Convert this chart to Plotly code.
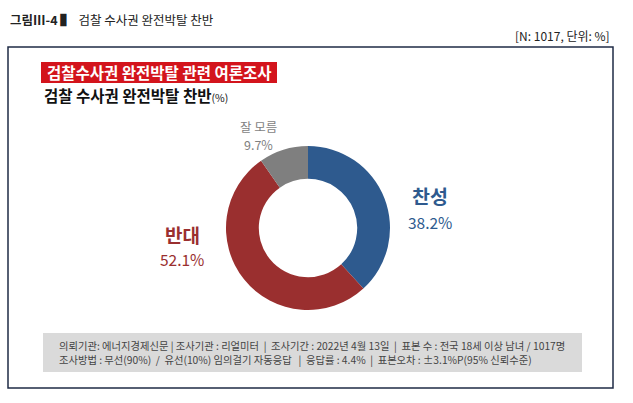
import plotly.graph_objects as go

labels = ["찬성", "반대", "잘 모름"]
values = [38.2, 52.1, 9.7]
colors = ["#2E5A8E", "#9A2F2F", "#7F7F7F"]

fig_title = "그림Ⅲ-4"
fig_subject = "검찰 수사권 완전박탈 찬반"
unit_note = "[N: 1017, 단위: %]"
banner_text = "검찰수사권 완전박탈 관련 여론조사"
chart_title = "검찰 수사권 완전박탈 찬반"
footer_lines = [
    "의뢰기관: 에너지경제신문 | 조사기관 : 리얼미터  |  조사기간 : 2022년 4월 13일  |  표본 수 : 전국 18세 이상 남녀 / 1017명",
    "조사방법 : 무선(90%)  /  유선(10%) 임의걸기 자동응답   |  응답률 : 4.4%  |  표본오차 : ±3.1%P(95% 신뢰수준)",
]

W, H = 633, 403
FONT = "Noto Sans CJK KR"

def px(x):
    return x / W

def py(y):
    return 1 - y / H

cx, cy, r = 308, 228, 82

fig = go.Figure()
fig.add_trace(go.Pie(
    labels=labels, values=values, hole=0.6, sort=False, direction="clockwise",
    rotation=0, marker=dict(colors=colors, line=dict(color="white", width=0)),
    textinfo="none", hoverinfo="label+percent", showlegend=False,
    domain=dict(x=[px(cx - r), px(cx + r)], y=[py(cy + r), py(cy - r)]),
))

shapes = [
    dict(type="rect", xref="paper", yref="paper", x0=px(8), x1=px(613), y0=py(388), y1=py(47),
         line=dict(color="#1F2B45", width=1.5), fillcolor="rgba(0,0,0,0)"),
    dict(type="rect", xref="paper", yref="paper", x0=px(41), x1=px(277), y0=py(83), y1=py(62),
         line=dict(width=0), fillcolor="#D3141C"),
    dict(type="rect", xref="paper", yref="paper", x0=px(43), x1=px(582), y0=py(372), y1=py(333),
         line=dict(width=0), fillcolor="#DADADA"),
]

ann = []
ann.append(dict(x=px(8), y=py(19), xanchor="left", yanchor="middle",
                text=f"<b>{fig_title}</b> <b>▌</b>  {fig_subject}", showarrow=False,
                font=dict(family=FONT, size=12.5, color="#222222")))
ann.append(dict(x=px(612), y=py(36), xanchor="right", yanchor="middle", text=unit_note,
                showarrow=False, font=dict(family=FONT, size=12, color="#222222")))
ann.append(dict(x=px(159), y=py(72.5), xanchor="center", yanchor="middle", text=f"<b>{banner_text}</b>",
                showarrow=False, font=dict(family=FONT, size=15.5, color="white")))
ann.append(dict(x=px(42), y=py(95), xanchor="left", yanchor="middle",
                text=f"<b>{chart_title}</b><span style='font-size:10.5px'>(%)</span>",
                showarrow=False, font=dict(family=FONT, size=15.5, color="#111111")))

label_pos = {
    "찬성": (430, 196, 222, 19.5, 15.5),
    "반대": (182, 235, 259, 19, 15.5),
    "잘 모름": (258, 127, 144, 12.5, 12.5),
}
for lab, val, col in zip(labels, values, colors):
    x, y1, y2, s1, s2 = label_pos[lab]
    ann.append(dict(x=px(x), y=py(y1), xanchor="center", yanchor="middle",
                    text=f"<b>{lab}</b>" if s1 > 14 else lab, showarrow=False,
                    borderpad=0, font=dict(family=FONT, size=s1, color=col)))
    ann.append(dict(x=px(x), y=py(y2), xanchor="center", yanchor="middle",
                    text=f"{val:.1f}%", showarrow=False,
                    borderpad=0, font=dict(family=FONT, size=s2, color=col)))

for i, line in enumerate(footer_lines):
    ann.append(dict(x=px(57), y=py(345 + i * 14), xanchor="left", yanchor="middle", text=line,
                    showarrow=False, font=dict(family=FONT, size=10.3, color="#444444")))

fig.update_layout(
    width=W, height=H, margin=dict(l=0, r=0, t=0, b=0),
    paper_bgcolor="white", plot_bgcolor="white",
    shapes=shapes, annotations=ann,
)
fig.write_html("out.html", config={"displayModeBar": False},
               post_script="document.body.style.margin='0';document.body.style.overflow='hidden';")
